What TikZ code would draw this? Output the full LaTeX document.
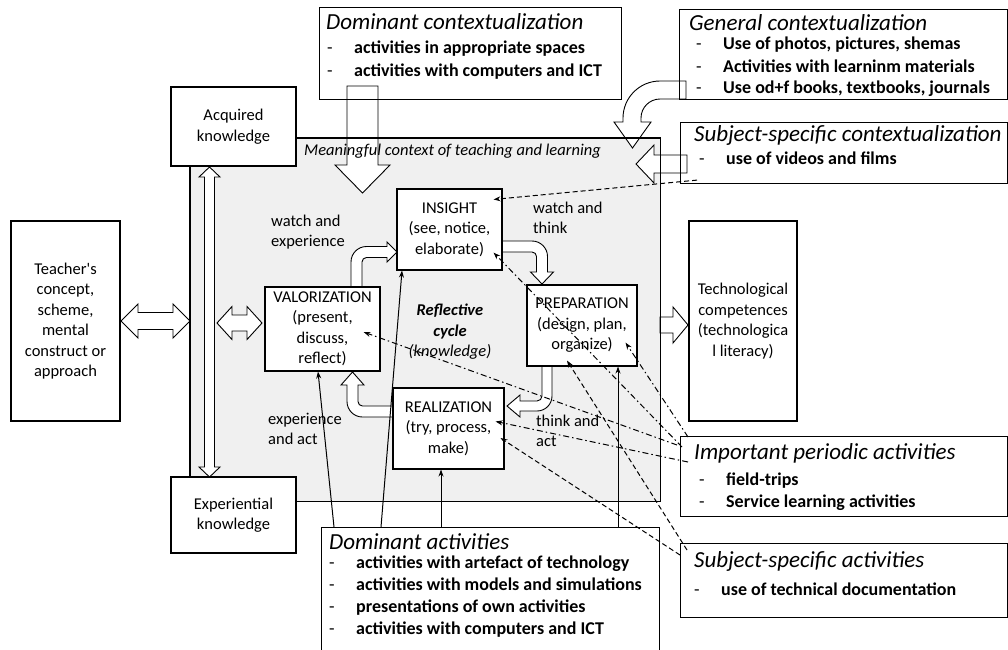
\documentclass[tikz,border=0pt]{standalone}
\usepackage{fontspec}
\setmainfont{Carlito}
\usetikzlibrary{arrows.meta}
\newcommand{\dashitem}{\makebox[27pt][l]{\mdseries -}}
\begin{document}
\begin{tikzpicture}[x=1pt,y=-1pt,
  box/.style={draw, line width=1.1pt, fill=white, inner sep=0pt, align=center, font=\fontsize{16.5}{20.5}\selectfont},
  frame/.style={draw, line width=1.1pt, inner sep=0pt, anchor=north west},
  ttl/.style={anchor=base west, inner sep=0pt, font=\fontsize{23}{27}\selectfont\itshape},
  itm/.style={anchor=base west, inner sep=0pt, font=\fontsize{18}{22}\selectfont\bfseries},
  lbl/.style={anchor=base west, inner sep=0pt, font=\fontsize{16.5}{20.5}\selectfont},
  block/.style={draw, line width=0.9pt, fill=white, line join=miter},
  solidarr/.style={line width=1pt, -{Stealth[length=7pt,width=5pt]}},
  dashdotarr/.style={line width=1pt, dash pattern=on 6pt off 3pt on 1.5pt off 3pt, -{Stealth[length=7pt,width=5pt]}},
  dashedarr/.style={line width=1pt, dash pattern=on 5pt off 3pt, -{Stealth[length=7pt,width=5pt]}},
]
\useasboundingbox (0,0) rectangle (1008,649);
\clip (0,0) rectangle (1008,649);

% grey context area
\node[fill=black!6, inner sep=0pt, anchor=north west, minimum width=470pt, minimum height=363pt] (ctx) at (190,138) {};

% hollow block arrows
\draw[block] (121,321) -- (138,304) -- (138,312.5) -- (173,312.5) -- (173,304) -- (190,321) -- (173,338) -- (173,329.5) -- (138,329.5) -- (138,338) -- cycle;
\draw[block] (217,323) -- (232,306.5) -- (232,315) -- (247,315) -- (247,306.5) -- (262,323) -- (247,339.5) -- (247,331) -- (232,331) -- (232,339.5) -- cycle;
\draw[block] (209.5,167) -- (220,177) -- (214.5,177) -- (214.5,467) -- (220,467) -- (209.5,477) -- (199,467) -- (204.5,467) -- (204.5,177) -- (199,177) -- cycle;
\draw[block] (347,86) -- (378,86) -- (378,165) -- (390,165) -- (362.5,193) -- (335,165) -- (347,165) -- cycle;
\draw[block] (686,81) -- (660,81) .. controls (639.6,81) and (623,97.6) .. (623,118) -- (623,122) -- (614,122) -- (632.5,148) -- (651,122) -- (641,122) -- (641,118) .. controls (641,107.5) and (649.5,99) .. (660,99) -- (686,99) -- cycle;
\draw[block] (687,155) -- (654,155) -- (654,145) -- (636,164) -- (654,183) -- (654,173) -- (687,173) -- cycle;
\draw[block] (351,287) -- (351,262) .. controls (351,253.4) and (357.9,246.5) .. (366.5,246.5) -- (387,246.5) -- (387,242) -- (397,252) -- (387,262) -- (387,257.5) -- (366.5,257.5) .. controls (364,257.5) and (362,259.5) .. (362,262) -- (362,287) -- cycle;
\draw[block] (502,241) -- (532,241) .. controls (540.56,241) and (547.5,247.94) .. (547.5,256.5) -- (547.5,272) -- (553.5,272) -- (542,284) -- (530.5,272) -- (536.5,272) -- (536.5,256.5) .. controls (536.5,254) and (534.5,252) .. (532,252) -- (502,252) -- cycle;
\draw[block] (542,366) -- (552,366) -- (552,396) .. controls (552,404.28) and (545.28,411) .. (537,411) -- (520,411) -- (520,417) -- (507,406) -- (520,395) -- (520,401) -- (537,401) .. controls (539.76,401) and (542,398.76) .. (542,396) -- cycle;
\draw[block] (393,417) -- (362.5,417) .. controls (353.94,417) and (347,410.06) .. (347,401.5) -- (347,385) -- (341,385) -- (352.5,372) -- (364,385) -- (358,385) -- (358,401.5) .. controls (358,404) and (360,406) .. (362.5,406) -- (393,406) -- cycle;
\draw[block] (660,317) -- (673,317) -- (673,307) -- (688,325) -- (673,343) -- (673,333) -- (660,333) -- cycle;

% border of grey area
\draw[line width=1.1pt] (ctx.north west) rectangle (ctx.south east);

% boxes
\node[box, minimum width=109pt, minimum height=200pt] (teacher) at (65.5,321) {Teacher\textquotesingle s\\concept,\\scheme,\\mental\\construct or\\approach};
\node[box, minimum width=125pt, minimum height=79pt] (acq) at (233.5,126.5) {Acquired\\knowledge};
\node[box, minimum width=125pt, minimum height=76pt] (exp) at (233.5,515) {Experiential\\knowledge};
\node[box, minimum width=105pt, minimum height=81pt] (ins) at (449.5,229.5) {INSIGHT\\(see, notice,\\elaborate)};
\node[box, minimum width=115pt, minimum height=84pt] (val) at (322.5,329) {VALORIZATION\\(present,\\discuss,\\reflect)};
\node[box, minimum width=110pt, minimum height=81pt] (pre) at (582,325.5) {PREPARATION\\(design, plan,\\organize)};
\node[box, minimum width=111pt, minimum height=81pt] (rea) at (448.5,428.5) {REALIZATION\\(try, process,\\make)};
\node[box, minimum width=108pt, minimum height=200pt] (tech) at (743,321) {Technological\\competences\\(technologica\\l literacy)};

% context / activity frames
\node[frame, minimum width=302pt, minimum height=92pt] (dc) at (319,7) {};
\node[frame, minimum width=327.5pt, minimum height=90pt] (gc) at (679,9) {};
\node[frame, minimum width=326.5pt, minimum height=61pt] (sc) at (680,122) {};
\node[frame, minimum width=326.5pt, minimum height=80pt] (ip) at (680,436) {};
\node[frame, minimum width=326.5pt, minimum height=74pt] (sa) at (680,543) {};
\node[frame, minimum width=338pt, minimum height=140pt] (da) at (321,527) {};

% frame texts
\node[ttl] (dct) at (326,29) {Dominant contextualization};
\node[itm] (dc1) at (327,53) {\dashitem activities in appropriate spaces};
\node[itm] (dc2) at (327,76) {\dashitem activities with computers and ICT};

\node[ttl] (gct) at (689,30) {General contextualization};
\node[itm] (gc1) at (696,49) {\dashitem Use of photos, pictures, shemas};
\node[itm] (gc2) at (696,72) {\dashitem Activities with learninm materials};
\node[itm] (gc3) at (696,93) {\dashitem Use od+f books, textbooks, journals};

\node[ttl] (sct) at (694,141) {Subject-specific contextualization};
\node[itm] (sc1) at (699,164) {\dashitem use of videos and films};

\node[ttl] (ipt) at (694,459) {Important periodic activities};
\node[itm] (ip1) at (699,485) {\dashitem field-trips};
\node[itm] (ip2) at (699,507) {\dashitem Service learning activities};

\node[ttl] (sat) at (694,567) {Subject-specific activities};
\node[itm] (sa1) at (694,595) {\dashitem use of technical documentation};

\node[ttl] (dat) at (329,549) {Dominant activities};
\node[itm] (da1) at (329,568) {\dashitem activities with artefact of technology};
\node[itm] (da2) at (329,590) {\dashitem activities with models and simulations};
\node[itm] (da3) at (329,612) {\dashitem presentations of own activities};
\node[itm] (da4) at (329,634) {\dashitem activities with computers and ICT};

% labels
\node[lbl, font=\fontsize{16.5}{20.5}\selectfont\itshape] (mct) at (304,155) {Meaningful context of teaching and learning};
\node[lbl] (wae1) at (271,226) {watch and};
\node[lbl] (wae2) at (271,246.5) {experience};
\node[lbl] (wat1) at (533,213) {watch and};
\node[lbl] (wat2) at (533,233.5) {think};
\node[lbl] (eaa1) at (268,424) {experience};
\node[lbl] (eaa2) at (268,444.5) {and act};
\node[lbl] (tan1) at (536,426) {think and};
\node[lbl] (tan2) at (536,446.5) {act};
\node[lbl, anchor=base, font=\fontsize{16.5}{20.5}\selectfont\bfseries\itshape] (rc1) at (450,315) {Reflective};
\node[lbl, anchor=base, font=\fontsize{16.5}{20.5}\selectfont\bfseries\itshape] (rc2) at (450,336) {cycle};
\node[lbl, anchor=base, font=\fontsize{16.5}{20.5}\selectfont\itshape] (rc3) at (450,356) {(knowledge)};

% solid connectors from dominant activities
\draw[solidarr] ([xshift=13pt]da.north west) -- ([xshift=-4.5pt]val.south);
\draw[solidarr] ([xshift=60pt]da.north west) -- ([xshift=-47.5pt]ins.south);
\draw[solidarr] ([xshift=120pt]da.north west) -- ([xshift=-7.5pt]rea.south);
\draw[solidarr] ([xshift=297pt]da.north west) -- ([xshift=36pt]pre.south);

% dash-dot connectors from important periodic activities
\draw[dashdotarr] ([shift={(2pt,-11pt)}]ip.north west) -- ([shift={(-9pt,18pt)}]ins.south east);
\draw[dashdotarr] ([shift={(8pt,-1pt)}]ip.north west) -- ([shift={(-12pt,24pt)}]pre.south east);
\draw[dashdotarr] ([shift={(-3pt,-9pt)}]ip.north west) -- ([shift={(-17pt,-3pt)}]val.east);
\draw[dashdotarr] ([shift={(8pt,-26pt)}]ip.north west) -- ([shift={(-9pt,-34pt)}]rea.north east);

% dashed connectors
\draw[dashedarr] ([shift={(0pt,-12pt)}]sa.north west) -- ([shift={(-4pt,-9.5pt)}]rea.east);
\draw[dashedarr] ([shift={(7pt,-7pt)}]sa.north west) -- ([shift={(-15pt,6pt)}]pre.south);
\draw[dashedarr] ([shift={(17pt,4pt)}]sc.south west) -- ([shift={(-9pt,-11pt)}]ins.north east);
\end{tikzpicture}
\end{document}
